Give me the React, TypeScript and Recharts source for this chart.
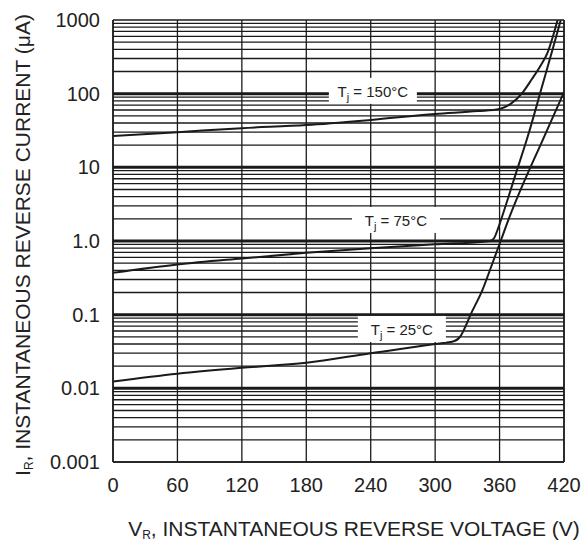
import React from "react";
import {
  LineChart,
  Line,
  XAxis,
  YAxis,
  CartesianGrid,
  ReferenceLine,
  ReferenceDot
} from "recharts";

const FONT = "'Liberation Sans', Arial, sans-serif";

// axis ticks
const voltageTicks = [0, 60, 120, 180, 240, 300, 360, 420];
const currentTicks = [0.001, 0.01, 0.1, 1, 10, 100, 1000];
const currentTickLabels = ["0.001", "0.01", "0.1", "1.0", "10", "100", "1000"];
const minorSteps = [2, 3, 4, 5, 6, 7, 8, 9];

// Tj = 150°C
const volt150 = [0, 60, 120, 180, 240, 300, 340, 360, 370, 382, 390, 398, 405, 410, 414];
const curr150 = [26.6, 30, 34, 37.5, 44, 53, 58, 62, 72, 106, 157, 238, 370, 620, 1000];

// Tj = 75°C
const volt75 = [0, 60, 120, 180, 240, 300, 345, 351, 355, 358, 362, 375, 386.5, 400, 410, 417];
const curr75 = [0.37, 0.48, 0.58, 0.69, 0.8, 0.9, 0.98, 1.0, 1.1, 1.4, 2.07, 8.1, 27, 132, 430, 1000];

// Tj = 25°C
const volt25 = [0, 60, 120, 180, 240, 300, 318, 324, 328, 333, 344, 352, 361, 369, 402, 420];
const curr25 = [0.0124, 0.0158, 0.019, 0.0222, 0.03, 0.04, 0.044, 0.052, 0.068, 0.1, 0.215, 0.44, 1.0, 2.07, 27, 105];

// curve labels
const labelTemps = ["150°C", "75°C", "25°C"];
const labelVolts = [242, 263.5, 269];
const labelCurrents = [109, 1.93, 0.064];

const toPoints = (vs: number[], is: number[]) => vs.map((v, k) => ({ v, i: is[k] }));

const minorGrid = currentTicks.slice(0, -1).flatMap(d => minorSteps.map(m => d * m));

const TempLabel = ({ cx, cy, temp }: any) => (
  <g>
    <rect x={cx - 44} y={cy - 13} width={88} height={26} fill="#fff" />
    <text x={cx} y={cy + 6} textAnchor="middle" fontFamily={FONT} fontSize={15} fill="#222">
      T<tspan fontSize={11} dy={4}>j</tspan>
      <tspan dy={-4}>{` = ${temp}`}</tspan>
    </text>
  </g>
);

const App: React.FC = () => {
  const ink = "#1a1a1a";
  return (
    <div style={{ position: "absolute", left: 0, top: 0, width: 585, height: 545, background: "#fff" }}>
      <LineChart width={585} height={545} margin={{ top: 20, right: 21, bottom: 43, left: 13 }}>
        <CartesianGrid
          horizontalValues={minorGrid}
          verticalValues={voltageTicks}
          stroke={ink}
          strokeWidth={1.3}
        />
        <XAxis
          type="number"
          dataKey="v"
          domain={[0, 420]}
          ticks={voltageTicks}
          interval={0}
          allowDataOverflow
          tickLine={false}
          tickSize={0}
          tickMargin={16}
          height={40}
          axisLine={{ stroke: ink, strokeWidth: 1.5 }}
          tick={{ fill: "#222", fontSize: 20, fontFamily: FONT }}
        />
        <YAxis
          type="number"
          scale="log"
          domain={[0.001, 1000]}
          ticks={currentTicks}
          interval={0}
          allowDataOverflow
          tickFormatter={(_v: number, idx: number) => currentTickLabels[idx]}
          tickLine={false}
          tickSize={0}
          tickMargin={13}
          width={100}
          axisLine={{ stroke: ink, strokeWidth: 1.5 }}
          tick={{ fill: "#222", fontSize: 20, fontFamily: FONT }}
        />
        {currentTicks.map(d => (
          <ReferenceLine key={"d" + d} y={d} stroke={ink} strokeWidth={d === 1000 || d === 0.001 ? 1.5 : 3} />
        ))}
        <ReferenceLine x={420} stroke={ink} strokeWidth={1.5} />
        {labelTemps.map((t, k) => (
          <ReferenceDot
            key={t}
            x={labelVolts[k]}
            y={labelCurrents[k]}
            r={0}
            shape={(p: any) => <TempLabel cx={p.cx} cy={p.cy} temp={t} />}
          />
        ))}
        <Line data={toPoints(volt150, curr150)} dataKey="i" type="monotone" stroke={ink} strokeWidth={2} dot={false} isAnimationActive={false} />
        <Line data={toPoints(volt75, curr75)} dataKey="i" type="monotone" stroke={ink} strokeWidth={2} dot={false} isAnimationActive={false} />
        <Line data={toPoints(volt25, curr25)} dataKey="i" type="monotone" stroke={ink} strokeWidth={2} dot={false} isAnimationActive={false} />
      </LineChart>
      <svg width={585} height={545} style={{ position: "absolute", left: 0, top: 0, pointerEvents: "none" }}>
        <text x={354} y={536} textAnchor="middle" fontFamily={FONT} fontSize={21} fill="#222">
          V<tspan fontSize={12} dy={3}>R</tspan>
          <tspan dy={-3}>, INSTANTANEOUS REVERSE VOLTAGE (V)</tspan>
        </text>
        <text
          x={0}
          y={0}
          transform="translate(30,245) rotate(-90)"
          textAnchor="middle"
          fontFamily={FONT}
          fontSize={21}
          fill="#222"
        >
          I<tspan fontSize={12} dy={3}>R</tspan>
          <tspan dy={-3}>, INSTANTANEOUS REVERSE CURRENT (μA)</tspan>
        </text>
      </svg>
    </div>
  );
};

export default App;
